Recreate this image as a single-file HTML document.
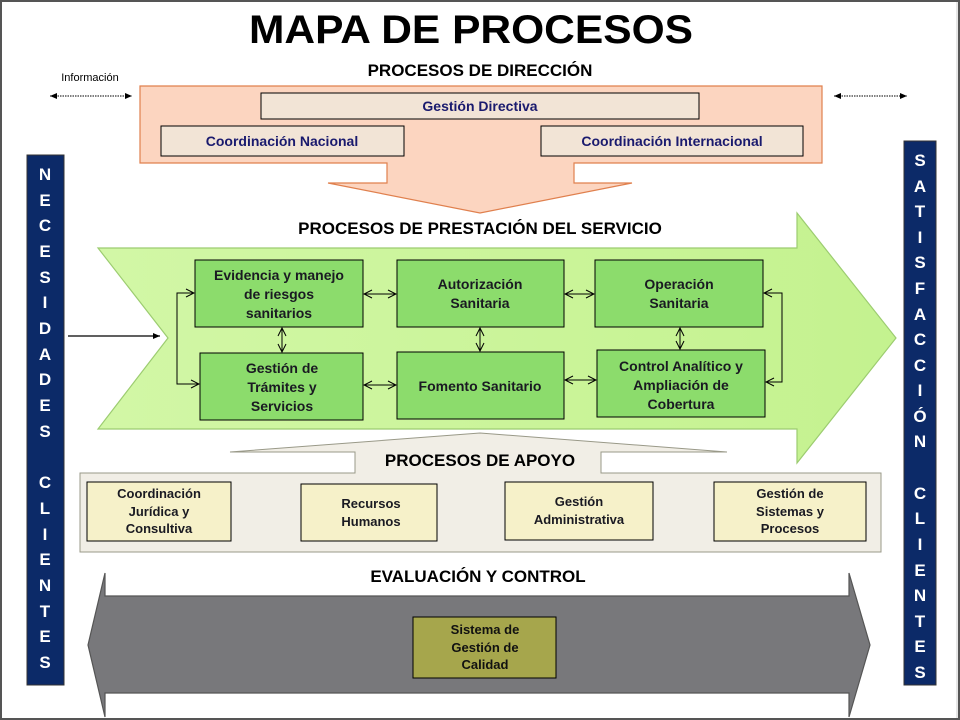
<!DOCTYPE html>
<html><head><meta charset="utf-8"><style>
html,body{margin:0;padding:0;background:#fff}
svg{display:block}
text{font-family:"Liberation Sans",Arial,sans-serif;font-weight:bold}
</style></head><body>
<svg width="960" height="720" viewBox="0 0 960 720" xmlns="http://www.w3.org/2000/svg">
<defs>
<marker id="oa" markerWidth="10" markerHeight="10" refX="9" refY="5" orient="auto-start-reverse" markerUnits="userSpaceOnUse"><path d="M1,1 L9,5 L1,9" fill="none" stroke="#000" stroke-width="1"/></marker>
<marker id="fa" markerWidth="8" markerHeight="8" refX="7" refY="4" orient="auto-start-reverse" markerUnits="userSpaceOnUse"><path d="M0,1 L7,4 L0,7 z" fill="#000"/></marker>
<linearGradient id="gg" x1="0" y1="0" x2="1" y2="0"><stop offset="0" stop-color="#d2f7a6"/><stop offset="1" stop-color="#c4f28f"/></linearGradient>
</defs>
<rect x="0" y="0" width="960" height="720" fill="#fff"/>
<rect x="1" y="1" width="958" height="718" fill="none" stroke="#555" stroke-width="2"/>
<line x1="957" y1="2" x2="957" y2="718" stroke="#ccc" stroke-width="1"/>

<text x="471" y="43" font-size="40" text-anchor="middle" textLength="444" lengthAdjust="spacingAndGlyphs">MAPA DE PROCESOS</text>
<text x="480" y="76" font-size="17" text-anchor="middle">PROCESOS  DE DIRECCIÓN</text>

<text x="90" y="81" font-size="11" style="font-weight:normal" text-anchor="middle">Información</text>
<line x1="50" y1="96" x2="132" y2="96" stroke="#000" stroke-dasharray="1.5,1" marker-start="url(#fa)" marker-end="url(#fa)"/>
<line x1="834" y1="96" x2="907" y2="96" stroke="#000" stroke-dasharray="1.5,1" marker-start="url(#fa)" marker-end="url(#fa)"/>

<path d="M140,86 H822 V163 H574 V183 H632 L480,213 L328,183 H387 V163 H140 Z" fill="#fcd5c0" stroke="#e0804e" stroke-width="1.2"/>
<rect x="261" y="93" width="438" height="26" fill="#f2e4d6" stroke="#000"/>
<text x="480" y="111" font-size="14" fill="#1a1a6e" text-anchor="middle">Gestión Directiva</text>
<rect x="161" y="126" width="243" height="30" fill="#f2e4d6" stroke="#000"/>
<text x="282" y="146" font-size="14" fill="#1a1a6e" text-anchor="middle">Coordinación Nacional</text>
<rect x="541" y="126" width="262" height="30" fill="#f2e4d6" stroke="#000"/>
<text x="672" y="146" font-size="14" fill="#1a1a6e" text-anchor="middle">Coordinación Internacional</text>

<rect x="27" y="155" width="37" height="530" fill="#0c2a68" stroke="#333"/>
<g font-size="17" fill="#fff" text-anchor="middle">
<text x="45" y="180">N</text><text x="45" y="206">E</text><text x="45" y="231">C</text><text x="45" y="257">E</text><text x="45" y="283">S</text><text x="45" y="308">I</text><text x="45" y="334">D</text><text x="45" y="360">A</text><text x="45" y="385">D</text><text x="45" y="411">E</text><text x="45" y="437">S</text>
<text x="45" y="488">C</text><text x="45" y="514">L</text><text x="45" y="540">I</text><text x="45" y="565">E</text><text x="45" y="591">N</text><text x="45" y="617">T</text><text x="45" y="642">E</text><text x="45" y="668">S</text>
</g>
<rect x="904" y="141" width="32" height="544" fill="#0c2a68" stroke="#333"/>
<g font-size="17" fill="#fff" text-anchor="middle">
<text x="920" y="166">S</text><text x="920" y="192">A</text><text x="920" y="217">T</text><text x="920" y="243">I</text><text x="920" y="268">S</text><text x="920" y="294">F</text><text x="920" y="320">A</text><text x="920" y="345">C</text><text x="920" y="371">C</text><text x="920" y="396">I</text><text x="920" y="422">Ó</text><text x="920" y="447">N</text>
<text x="920" y="499">C</text><text x="920" y="524">L</text><text x="920" y="550">I</text><text x="920" y="576">E</text><text x="920" y="601">N</text><text x="920" y="627">T</text><text x="920" y="652">E</text><text x="920" y="678">S</text>
</g>

<path d="M98,248 H797 V213 L896,338 L797,463 V429 H98 L168,338 Z" fill="url(#gg)" stroke="#9ccc70" stroke-width="1.2"/>
<text x="480" y="234" font-size="17" text-anchor="middle">PROCESOS  DE  PRESTACIÓN  DEL SERVICIO</text>
<line x1="68" y1="336" x2="160" y2="336" stroke="#000" stroke-width="1.2" marker-end="url(#fa)"/>

<g fill="#8cdc6c" stroke="#000" stroke-width="1">
<rect x="195" y="260" width="168" height="67"/>
<rect x="397" y="260" width="167" height="67"/>
<rect x="595" y="260" width="168" height="67"/>
<rect x="200" y="353" width="163" height="67"/>
<rect x="397" y="352" width="167" height="67"/>
<rect x="597" y="350" width="168" height="67"/>
</g>
<g font-size="14" fill="#1a1a22" text-anchor="middle">
<text x="279" y="280">Evidencia y manejo</text><text x="279" y="299">de riesgos</text><text x="279" y="318">sanitarios</text>
<text x="480" y="289">Autorización</text><text x="480" y="308">Sanitaria</text>
<text x="679" y="289">Operación</text><text x="679" y="308">Sanitaria</text>
<text x="282" y="373">Gestión de</text><text x="282" y="392">Trámites y</text><text x="282" y="411">Servicios</text>
<text x="480" y="391">Fomento Sanitario</text>
<text x="681" y="371">Control Analítico y</text><text x="681" y="390">Ampliación de</text><text x="681" y="409">Cobertura</text>
</g>
<g stroke="#000" stroke-width="1" fill="none">
<line x1="364" y1="294" x2="396" y2="294" marker-start="url(#oa)" marker-end="url(#oa)"/>
<line x1="565" y1="294" x2="594" y2="294" marker-start="url(#oa)" marker-end="url(#oa)"/>
<line x1="364" y1="385" x2="396" y2="385" marker-start="url(#oa)" marker-end="url(#oa)"/>
<line x1="565" y1="380" x2="596" y2="380" marker-start="url(#oa)" marker-end="url(#oa)"/>
<line x1="282" y1="328" x2="282" y2="352" marker-start="url(#oa)" marker-end="url(#oa)"/>
<line x1="480" y1="328" x2="480" y2="351" marker-start="url(#oa)" marker-end="url(#oa)"/>
<line x1="680" y1="328" x2="680" y2="349" marker-start="url(#oa)" marker-end="url(#oa)"/>
<polyline points="194,293 177,293 177,384 199,384" marker-start="url(#oa)" marker-end="url(#oa)"/>
<polyline points="764,293 782,293 782,382 766,382" marker-start="url(#oa)" marker-end="url(#oa)"/>
</g>

<path d="M80,473 H355 V452 H230 L480,433 L727,452 H601 V473 H881 V552 H80 Z" fill="#f1eee6" stroke="#999988" stroke-width="1"/>
<text x="480" y="466" font-size="17" text-anchor="middle">PROCESOS  DE APOYO</text>
<g fill="#f6f1c9" stroke="#000">
<rect x="87" y="482" width="144" height="59"/>
<rect x="301" y="484" width="136" height="57"/>
<rect x="505" y="482" width="148" height="58"/>
<rect x="714" y="482" width="152" height="59"/>
</g>
<g font-size="13" fill="#1a1a22" text-anchor="middle">
<text x="159" y="498">Coordinación</text><text x="159" y="516">Jurídica y</text><text x="159" y="533">Consultiva</text>
<text x="371" y="508">Recursos</text><text x="371" y="526">Humanos</text>
<text x="579" y="506">Gestión</text><text x="579" y="524">Administrativa</text>
<text x="790" y="498">Gestión de</text><text x="790" y="516">Sistemas y</text><text x="790" y="533">Procesos</text>
</g>

<text x="478" y="582" font-size="17" text-anchor="middle">EVALUACIÓN  Y CONTROL</text>
<path d="M88,645 L105,573 V596 H849 V573 L870,645 L849,717 V693 H105 V717 Z" fill="#78787b" stroke="#555" stroke-width="1.2"/>
<rect x="413" y="617" width="143" height="61" fill="#a6a64c" stroke="#000"/>
<g font-size="13" fill="#111" text-anchor="middle">
<text x="485" y="634">Sistema de</text><text x="485" y="652">Gestión de</text><text x="485" y="669">Calidad</text>
</g>
</svg>
</body></html>
